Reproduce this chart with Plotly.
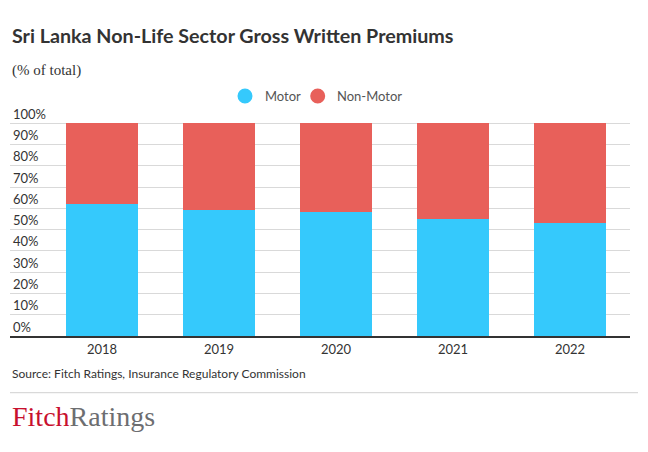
import plotly.graph_objects as go

years = ["2018", "2019", "2020", "2021", "2022"]
motor = [61.9, 59.1, 58.2, 54.9, 53.0]
non_motor = [38.1, 40.9, 41.8, 45.1, 47.0]
y_ticks = [0, 10, 20, 30, 40, 50, 60, 70, 80, 90, 100]
y_tick_labels = [f"{v}%" for v in y_ticks]
series_names = ["Motor", "Non-Motor"]

MOTOR_C = "#35c9fc"
NONMOTOR_C = "#e8605a"
FONT = "Lato"

T, B, L, R = 102, 116, 10, 18
PH = 452 - T - B  # plot height in px
PW = 648 - L - R  # plot width in px


def py(ypix):
    return (452 - B - ypix) / PH


def px(xpix):
    return (xpix - L) / PW


fig = go.Figure()
fig.add_trace(go.Bar(x=years, y=motor, name=series_names[0], marker_color=MOTOR_C,
                     marker_line_width=0, width=0.61))
fig.add_trace(go.Bar(x=years, y=non_motor, name=series_names[1], marker_color=NONMOTOR_C,
                     marker_line_width=0, width=0.61))

fig.update_layout(
    width=648, height=452,
    barmode="stack",
    paper_bgcolor="white", plot_bgcolor="white",
    margin=dict(l=L, r=R, t=T, b=B),
    font=dict(family=FONT, size=13, color="#333333"),
    showlegend=False,
    hovermode=False,
    xaxis=dict(type="category", range=[-0.786, 4.513], showgrid=False, showline=True,
               linecolor="#333333", linewidth=2, ticks="", fixedrange=True,
               tickfont=dict(family=FONT, size=13, color="#333333")),
    yaxis=dict(range=[0, 110], tickvals=y_ticks, ticktext=y_tick_labels,
               showgrid=True, gridcolor="#d9d9d9", gridwidth=1, zeroline=False,
               ticklabelposition="inside", ticklabelstandoff=0, ticklabelshift=-9,
               tickfont=dict(family=FONT, size=13, color="#333333"), fixedrange=True),
)

# custom legend (circle markers)
legend_items = [(series_names[0], MOTOR_C, 245, 263), (series_names[1], NONMOTOR_C, 317.7, 335)]
for name, col, cx, tx in legend_items:
    fig.add_shape(type="circle", xref="paper", yref="paper",
                  xsizemode="pixel", ysizemode="pixel",
                  xanchor=px(cx), yanchor=py(96), x0=-7.5, x1=7.5, y0=-7.5, y1=7.5,
                  fillcolor=col, line=dict(width=0))
    fig.add_annotation(text=name, xref="paper", yref="paper", x=px(tx), y=py(96),
                       xanchor="left", yanchor="middle", showarrow=False,
                       font=dict(family=FONT, size=13, color="#555555"))

fig.add_annotation(text="<b>Sri Lanka Non-Life Sector Gross Written Premiums</b>",
                   xref="paper", yref="paper", x=0, y=py(36),
                   xanchor="left", yanchor="middle", showarrow=False,
                   font=dict(family=FONT, size=19.7, color="#333333"))
fig.add_annotation(text="(% of total)", xref="paper", yref="paper", x=0, y=py(70),
                   xanchor="left", yanchor="middle", showarrow=False,
                   font=dict(family="Liberation Serif", size=15, color="#333333"))
fig.add_annotation(text="Source: Fitch Ratings, Insurance Regulatory Commission",
                   xref="paper", yref="paper", x=0, y=py(373),
                   xanchor="left", yanchor="middle", showarrow=False,
                   font=dict(family=FONT, size=12, color="#333333"))
fig.add_annotation(text="<span style='color:#c8102e'>Fitch</span><span style='color:#6d6e71'>Ratings</span>",
                   xref="paper", yref="paper", x=0, y=py(416),
                   xanchor="left", yanchor="middle", showarrow=False,
                   font=dict(family="Liberation Serif", size=28))
fig.add_shape(type="line", xref="paper", yref="paper", x0=0, x1=px(638),
              y0=py(392.7), y1=py(392.7),
              line=dict(color="#d0d0d0", width=1))

fig.write_html("out.html", config={"displayModeBar": False},
               post_script="document.body.style.margin='0';")
